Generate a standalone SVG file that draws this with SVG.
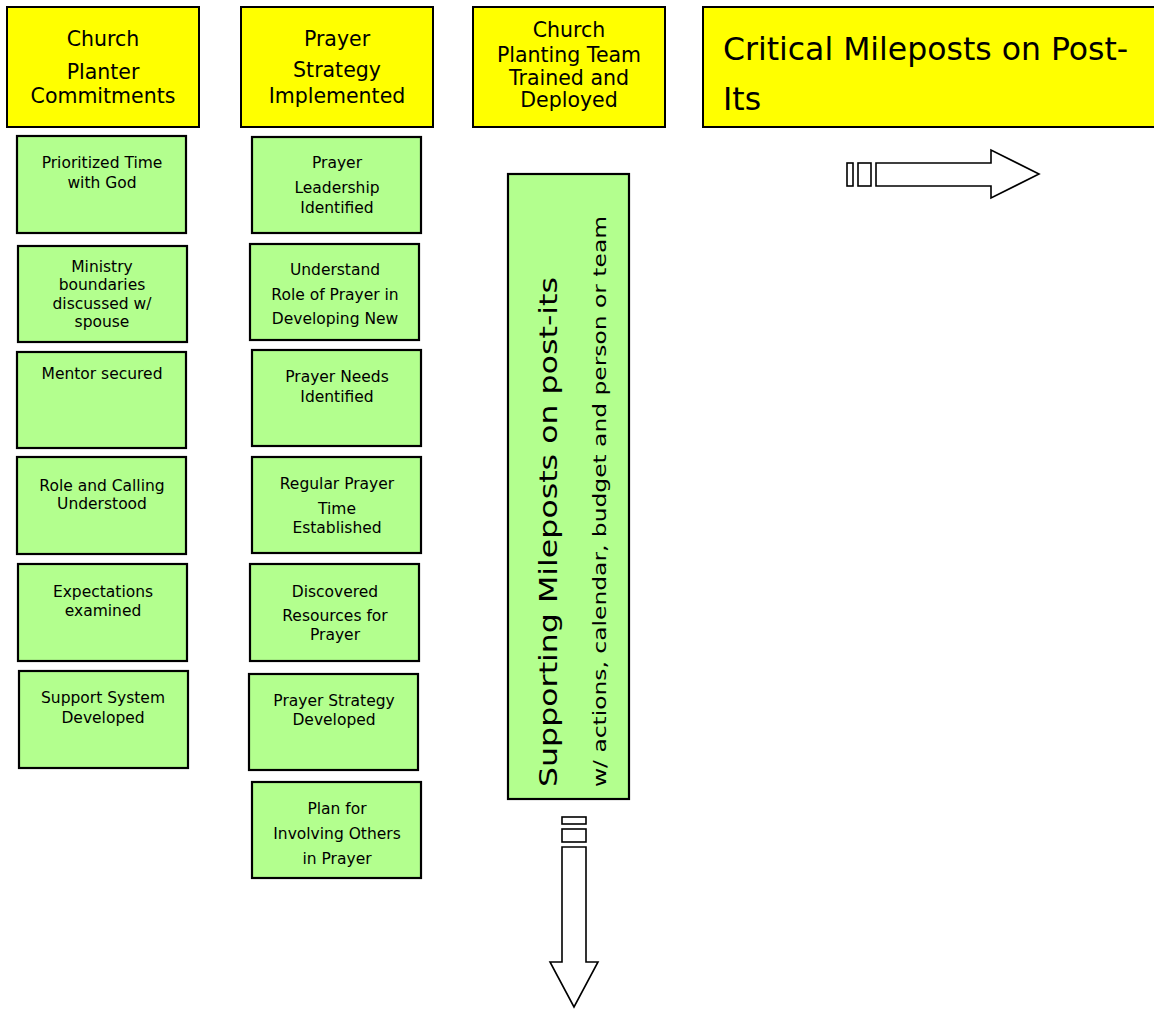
<svg xmlns="http://www.w3.org/2000/svg" width="1154" height="1009" viewBox="0 0 1154 1009">
<style>
.hdr{fill:#FFFF00;stroke:#000;stroke-width:2}
.grn{fill:#B3FF8E;stroke:#000;stroke-width:2.2}
.t{font-family:"DejaVu Sans","Liberation Sans",sans-serif;fill:#000;text-anchor:middle}
.h{font-size:20.5px}
.h3{font-size:20.5px}
.s{font-size:15.5px}
.arr{fill:#fff;stroke:#000;stroke-width:1.6}
</style>
<rect width="1154" height="1009" fill="#fff"/>
<g id="hdr-planter">
<rect class="hdr" x="7" y="7" width="192" height="120"/>
<text class="t h" x="103" y="46">Church</text>
<text class="t h" x="103" y="79">Planter</text>
<text class="t h" x="103" y="103">Commitments</text>
</g>
<g id="hdr-prayer">
<rect class="hdr" x="241" y="7" width="192" height="120"/>
<text class="t h" x="337" y="46">Prayer</text>
<text class="t h" x="337" y="77">Strategy</text>
<text class="t h" x="337" y="103">Implemented</text>
</g>
<g id="hdr-team">
<rect class="hdr" x="473" y="7" width="192" height="120"/>
<text class="t h3" x="569" y="37">Church</text>
<text class="t h3" x="569" y="62">Planting Team</text>
<text class="t h3" x="569" y="85">Trained and</text>
<text class="t h3" x="569" y="107">Deployed</text>
</g>
<g id="hdr-critical">
<rect class="hdr" x="703" y="7" width="470" height="120"/>
<text class="t" style="font-size:31.5px;text-anchor:start" x="723" y="60">Critical Mileposts on Post-</text>
<text class="t" style="font-size:31.5px;text-anchor:start" x="723" y="110">Its</text>
</g>
<g id="g1"><rect class="grn" x="17" y="136" width="169" height="97"/>
<text class="t s" x="102" y="168">Prioritized Time</text><text class="t s" x="102" y="188">with God</text></g>
<g id="g2"><rect class="grn" x="18" y="246" width="169" height="96"/>
<text class="t s" x="102" y="272">Ministry</text><text class="t s" x="102" y="290">boundaries</text><text class="t s" x="102" y="309">discussed w/</text><text class="t s" x="102" y="327">spouse</text></g>
<g id="g3"><rect class="grn" x="17" y="352" width="169" height="96"/>
<text class="t s" x="102" y="379">Mentor secured</text></g>
<g id="g4"><rect class="grn" x="17" y="457" width="169" height="97"/>
<text class="t s" x="102" y="491">Role and Calling</text><text class="t s" x="102" y="509">Understood</text></g>
<g id="g5"><rect class="grn" x="18" y="564" width="169" height="97"/>
<text class="t s" x="103" y="597">Expectations</text><text class="t s" x="103" y="616">examined</text></g>
<g id="g6"><rect class="grn" x="19" y="671" width="169" height="97"/>
<text class="t s" x="103" y="703">Support System</text><text class="t s" x="103" y="723">Developed</text></g>
<g id="h1"><rect class="grn" x="252" y="137" width="169" height="96"/>
<text class="t s" x="337" y="168">Prayer</text><text class="t s" x="337" y="193">Leadership</text><text class="t s" x="337" y="213">Identified</text></g>
<g id="h2"><rect class="grn" x="250" y="244" width="169" height="96"/>
<text class="t s" x="335" y="275">Understand</text><text class="t s" x="335" y="300">Role of Prayer in</text><text class="t s" x="335" y="324">Developing New</text></g>
<g id="h3"><rect class="grn" x="252" y="350" width="169" height="96"/>
<text class="t s" x="337" y="382">Prayer Needs</text><text class="t s" x="337" y="402">Identified</text></g>
<g id="h4"><rect class="grn" x="252" y="457" width="169" height="96"/>
<text class="t s" x="337" y="489">Regular Prayer</text><text class="t s" x="337" y="514">Time</text><text class="t s" x="337" y="533">Established</text></g>
<g id="h5"><rect class="grn" x="250" y="564" width="169" height="97"/>
<text class="t s" x="335" y="597">Discovered</text><text class="t s" x="335" y="621">Resources for</text><text class="t s" x="335" y="640">Prayer</text></g>
<g id="h6"><rect class="grn" x="249" y="674" width="169" height="96"/>
<text class="t s" x="334" y="706">Prayer Strategy</text><text class="t s" x="334" y="725">Developed</text></g>
<g id="h7"><rect class="grn" x="252" y="782" width="169" height="96"/>
<text class="t s" x="337" y="814">Plan for</text><text class="t s" x="337" y="839">Involving Others</text><text class="t s" x="337" y="864">in Prayer</text></g>
<g id="supporting">
<rect class="grn" x="508" y="174" width="121" height="625"/>
<text class="t" style="font-size:25px;text-anchor:start" transform="translate(557,787) rotate(-90)" textLength="510" lengthAdjust="spacingAndGlyphs">Supporting Mileposts on post-its</text>
<text class="t" style="font-size:17.5px;text-anchor:start" transform="translate(606,787) rotate(-90)" textLength="571" lengthAdjust="spacingAndGlyphs">w/ actions, calendar, budget and person or team</text>
</g>
<g id="connectors">
<rect class="arr" x="847" y="163" width="6" height="23"/>
<rect class="arr" x="858" y="163" width="13" height="23"/>
<path class="arr" d="M876,163 H991 V150 L1039,174 L991,198 V186 H876 Z"/>
<rect class="arr" x="562" y="817" width="24" height="7"/>
<rect class="arr" x="562" y="829" width="24" height="13"/>
<path class="arr" d="M562,847 H586 V962 H598 L574,1007 L550,962 H562 Z"/>
</g>
</svg>
